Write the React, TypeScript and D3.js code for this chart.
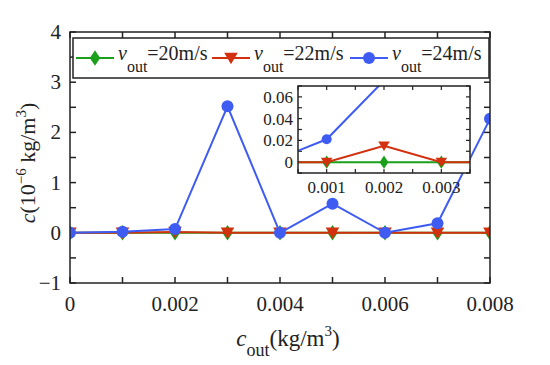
import { useEffect, useRef } from "react";
import * as d3 from "d3";

// c_out values (kg/m^3)
const cOut = [0, 0.001, 0.002, 0.003, 0.004, 0.005, 0.006, 0.007, 0.008];
// c (10^-6 kg/m^3) for each outlet velocity
const v20 = [0, 0, 0, 0, 0, 0, 0, 0, 0];
const v22 = [0, 0, 0.015, 0, 0, 0, 0, 0, 0];
const v24 = [0, 0.021, 0.075, 2.52, 0, 0.58, 0, 0.19, 2.27];

const xTicks = [0, 0.002, 0.004, 0.006, 0.008];
const yTicks = [-1, 0, 1, 2, 3, 4];
const insetXTicks = [0.001, 0.002, 0.003];
const insetYTicks = [0, 0.02, 0.04, 0.06];

const GREEN = "#1aa01a";
const RED = "#d2300f";
const BLUE = "#3f5cf2";
const AXIS = "#222";
const FONT = "'Liberation Serif', 'Times New Roman', serif";

const W = 550;
const H = 365;

type Series = { name: string; values: number[]; color: string; marker: string };
const series: Series[] = [
  { name: "=20m/s", values: v20, color: GREEN, marker: "diamond" },
  { name: "=22m/s", values: v22, color: RED, marker: "triangle" },
  { name: "=24m/s", values: v24, color: BLUE, marker: "circle" },
];

function drawMarker(g: any, type: string, x: number, y: number, color: string, s: number) {
  if (type === "circle") {
    g.append("circle").attr("cx", x).attr("cy", y).attr("r", s).attr("fill", color);
  } else if (type === "diamond") {
    g.append("path")
      .attr("d", `M${x},${y - s * 1.2}L${x + s * 0.8},${y}L${x},${y + s * 1.2}L${x - s * 0.8},${y}Z`)
      .attr("fill", color);
  } else {
    g.append("path")
      .attr("d", `M${x - s * 1.05},${y - s * 0.8}L${x + s * 1.05},${y - s * 0.8}L${x},${y + s * 0.95}Z`)
      .attr("fill", color);
  }
}

function buildChart(svgEl: SVGSVGElement) {
  const svg = d3.select(svgEl);
  svg.selectAll("*").remove();

  const plot = { left: 70, right: 490, top: 32, bottom: 283 };
  const x = d3.scaleLinear().domain([0, 0.008]).range([plot.left, plot.right]);
  const y = d3.scaleLinear().domain([-1, 4]).range([plot.bottom, plot.top]);

  const clip = svg.append("defs");
  clip.append("clipPath").attr("id", "main-clip")
    .append("rect").attr("x", plot.left).attr("y", plot.top)
    .attr("width", plot.right - plot.left).attr("height", plot.bottom - plot.top);

  // ticks (inward) on all four sides
  const tk = svg.append("g").attr("stroke", AXIS).attr("stroke-width", 1.5);
  d3.range(0, 0.00801, 0.001).forEach(v => {
    tk.append("line").attr("x1", x(v)).attr("x2", x(v)).attr("y1", plot.bottom).attr("y2", plot.bottom - 6);
    tk.append("line").attr("x1", x(v)).attr("x2", x(v)).attr("y1", plot.top).attr("y2", plot.top + 6);
  });
  d3.range(-1, 4.01, 0.5).forEach(v => {
    tk.append("line").attr("x1", plot.left).attr("x2", plot.left + 6).attr("y1", y(v)).attr("y2", y(v));
    tk.append("line").attr("x1", plot.right).attr("x2", plot.right - 6).attr("y1", y(v)).attr("y2", y(v));
  });

  // tick labels
  xTicks.forEach(v => {
    svg.append("text").attr("x", x(v)).attr("y", 311).attr("text-anchor", "middle")
      .attr("font-family", FONT).attr("font-size", 21).attr("fill", AXIS).text(String(v));
  });
  yTicks.forEach(v => {
    svg.append("text").attr("x", 61).attr("y", y(v) + 7).attr("text-anchor", "end")
      .attr("font-family", FONT).attr("font-size", 21).attr("fill", AXIS)
      .text(v < 0 ? "\u2212" + Math.abs(v) : String(v));
  });

  // series
  const lines = svg.append("g").attr("clip-path", "url(#main-clip)");
  const line = d3.line<number>().x((_, i) => x(cOut[i])).y(d => y(d));
  series.forEach(s => {
    lines.append("path").datum(s.values).attr("d", line).attr("fill", "none")
      .attr("stroke", s.color).attr("stroke-width", 2);
    s.values.forEach((v, i) => drawMarker(lines, s.marker, x(cOut[i]), y(v), s.color, s.marker === "circle" ? 6 : 6.5));
  });

  // legend
  const lg = svg.append("g");
  lg.append("rect").attr("x", 73).attr("y", 38).attr("width", 416).attr("height", 40)
    .attr("fill", "white").attr("stroke", AXIS).attr("stroke-width", 1.5);
  const legendX = [76, 212, 350];
  series.forEach((s, i) => {
    const lx = legendX[i];
    lg.append("line").attr("x1", lx).attr("x2", lx + 38).attr("y1", 58).attr("y2", 58)
      .attr("stroke", s.color).attr("stroke-width", 2);
    drawMarker(lg, s.marker, lx + 19, 58, s.color, s.marker === "circle" ? 6 : 6.5);
    const t = lg.append("text").attr("x", lx + 42).attr("y", 60)
      .attr("font-family", FONT).attr("font-size", 20).attr("fill", AXIS);
    t.append("tspan").attr("font-style", "italic").text("v");
    t.append("tspan").attr("font-size", 16).attr("dy", 12).text("out");
    t.append("tspan").attr("dy", -12).text(s.name);
  });

  // frame
  svg.append("rect").attr("x", plot.left).attr("y", plot.top)
    .attr("width", plot.right - plot.left).attr("height", plot.bottom - plot.top)
    .attr("fill", "none").attr("stroke", AXIS).attr("stroke-width", 1.5);

  // axis titles
  const xt = svg.append("text").attr("x", 288).attr("y", 346).attr("text-anchor", "middle")
    .attr("font-family", FONT).attr("font-size", 23).attr("fill", AXIS);
  xt.append("tspan").attr("font-style", "italic").text("c");
  xt.append("tspan").attr("font-size", 18).attr("dy", 10).text("out");
  xt.append("tspan").attr("dy", -10).text("(kg/m");
  xt.append("tspan").attr("font-size", 15).attr("dy", -10).text("3");
  xt.append("tspan").attr("dy", 10).text(")");

  const yt = svg.append("text").attr("transform", "translate(35,163) rotate(-90)")
    .attr("text-anchor", "middle").attr("font-family", FONT).attr("font-size", 22).attr("fill", AXIS);
  yt.append("tspan").attr("font-style", "italic").text("c");
  yt.append("tspan").text("(10");
  yt.append("tspan").attr("font-size", 15).attr("dy", -9).text("\u22126");
  yt.append("tspan").attr("dy", 9).text(" kg/m");
  yt.append("tspan").attr("font-size", 15).attr("dy", -9).text("3");
  yt.append("tspan").attr("dy", 9).text(")");

  // inset
  const ins = { left: 298, right: 470, top: 86, bottom: 173 };
  const xi = d3.scaleLinear().domain([0.0005, 0.0035]).range([ins.left, ins.right]);
  const yi = d3.scaleLinear().domain([-0.01, 0.07]).range([ins.bottom, ins.top]);
  clip.append("clipPath").attr("id", "inset-clip")
    .append("rect").attr("x", ins.left).attr("y", ins.top)
    .attr("width", ins.right - ins.left).attr("height", ins.bottom - ins.top);

  svg.append("rect").attr("x", ins.left).attr("y", ins.top)
    .attr("width", ins.right - ins.left).attr("height", ins.bottom - ins.top).attr("fill", "white");

  const itk = svg.append("g").attr("stroke", AXIS).attr("stroke-width", 1.2);
  d3.range(0.0005, 0.00351, 0.0005).forEach(v => {
    itk.append("line").attr("x1", xi(v)).attr("x2", xi(v)).attr("y1", ins.bottom).attr("y2", ins.bottom - 4);
    itk.append("line").attr("x1", xi(v)).attr("x2", xi(v)).attr("y1", ins.top).attr("y2", ins.top + 4);
  });
  d3.range(-0.01, 0.0701, 0.01).forEach(v => {
    itk.append("line").attr("x1", ins.left).attr("x2", ins.left + 4).attr("y1", yi(v)).attr("y2", yi(v));
    itk.append("line").attr("x1", ins.right).attr("x2", ins.right - 4).attr("y1", yi(v)).attr("y2", yi(v));
  });

  insetXTicks.forEach(v => {
    svg.append("text").attr("x", xi(v)).attr("y", 193).attr("text-anchor", "middle")
      .attr("font-family", FONT).attr("font-size", 17).attr("fill", AXIS).text(String(v));
  });
  insetYTicks.forEach(v => {
    svg.append("text").attr("x", 293).attr("y", yi(v) + 6).attr("text-anchor", "end")
      .attr("font-family", FONT).attr("font-size", 17).attr("fill", AXIS).text(String(v));
  });

  const ig = svg.append("g").attr("clip-path", "url(#inset-clip)");
  const iline = d3.line<number>().x((_, i) => xi(cOut[i])).y(d => yi(d));
  series.forEach(s => {
    ig.append("path").datum(s.values).attr("d", iline).attr("fill", "none")
      .attr("stroke", s.color).attr("stroke-width", 2);
    s.values.forEach((v, i) => drawMarker(ig, s.marker, xi(cOut[i]), yi(v), s.color, s.marker === "circle" ? 5 : 5.5));
  });

  svg.append("rect").attr("x", ins.left).attr("y", ins.top)
    .attr("width", ins.right - ins.left).attr("height", ins.bottom - ins.top)
    .attr("fill", "none").attr("stroke", AXIS).attr("stroke-width", 1.5);
}

export default function App() {
  const ref = useRef<SVGSVGElement>(null);
  useEffect(() => {
    if (ref.current) buildChart(ref.current);
  }, []);
  return (
    <svg ref={ref} width={W} height={H}
      style={{ position: "absolute", left: 0, top: 0, display: "block", background: "white" }} />
  );
}
